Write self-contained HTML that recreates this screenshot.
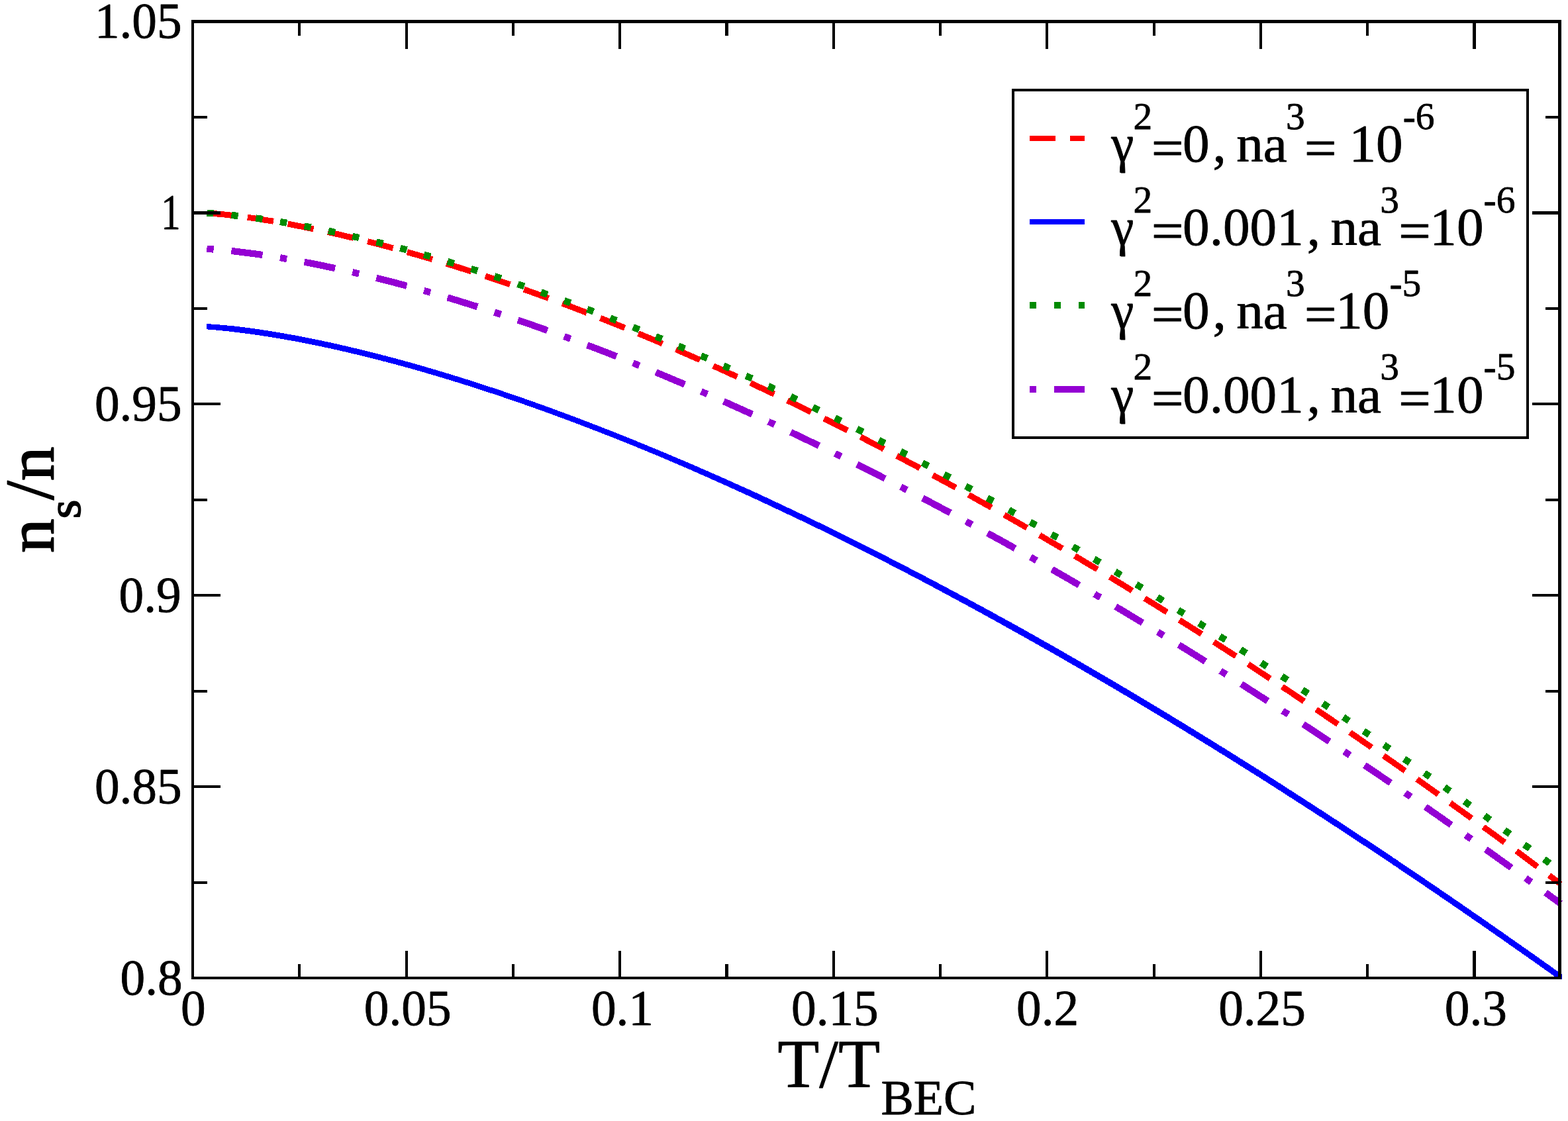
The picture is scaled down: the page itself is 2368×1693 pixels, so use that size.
<!DOCTYPE html>
<html lang="en"><head><meta charset="utf-8"><title>Superfluid fraction vs temperature</title>
<style>
html,body{margin:0;padding:0;background:#fff}
body{width:2368px;height:1693px;overflow:hidden}
svg{display:block}
text{font-family:"Liberation Serif", "DejaVu Serif", serif;white-space:pre}
</style></head>
<body>
<svg width="2368" height="1693" viewBox="0 0 2368 1693">
<rect width="2368" height="1693" fill="#fff"/>
<defs><clipPath id="clip"><rect x="289" y="30" width="2079" height="1449"/></clipPath><clipPath id="clipb"><rect x="312" y="30" width="2047" height="1449"/></clipPath></defs>
<g clip-path="url(#clip)" fill="none" shape-rendering="crispEdges">
<path d="M312.4 321.7 L320.3 322.3 L328.2 323.0 L336.1 323.7 L344.0 324.6 L351.9 325.5 L359.8 326.4 L367.7 327.4 L375.5 328.5 L383.4 329.6 L391.3 330.8 L399.2 332.1 L407.1 333.3 L415.0 334.6 L422.9 336.0 L430.8 337.4 L438.7 338.9 L446.6 340.4 L454.5 341.9 L462.4 343.5 L470.3 345.1 L478.2 346.7 L486.1 348.4 L493.9 350.1 L501.8 351.9 L509.7 353.7 L517.6 355.5 L525.5 357.4 L533.4 359.3 L541.3 361.2 L549.2 363.2 L557.1 365.2 L565.0 367.2 L572.9 369.2 L580.8 371.3 L588.7 373.4 L596.6 375.6 L604.5 377.7 L612.4 379.9 L620.2 382.2 L628.1 384.4 L636.0 386.7 L643.9 389.0 L651.8 391.4 L659.7 393.8 L667.6 396.1 L675.5 398.6 L683.4 401.0 L691.3 403.5 L699.2 406.0 L707.1 408.5 L715.0 411.1 L722.9 413.7 L730.8 416.3 L738.6 418.9 L746.5 421.5 L754.4 424.2 L762.3 426.9 L770.2 429.6 L778.1 432.4 L786.0 435.2 L793.9 438.0 L801.8 440.8 L809.7 443.6 L817.6 446.5 L825.5 449.4 L833.4 452.3 L841.3 455.2 L849.2 458.2 L857.0 461.2 L864.9 464.2 L872.8 467.2 L880.7 470.2 L888.6 473.3 L896.5 476.4 L904.4 479.5 L912.3 482.6 L920.2 485.8 L928.1 488.9 L936.0 492.1 L943.9 495.3 L951.8 498.6 L959.7 501.8 L967.6 505.1 L975.4 508.4 L983.3 511.7 L991.2 515.0 L999.1 518.4 L1007.0 521.8 L1014.9 525.2 L1022.8 528.6 L1030.7 532.0 L1038.6 535.5 L1046.5 538.9 L1054.4 542.4 L1062.3 545.9 L1070.2 549.4 L1078.1 553.0 L1086.0 556.6 L1093.9 560.1 L1101.7 563.7 L1109.6 567.4 L1117.5 571.0 L1125.4 574.7 L1133.3 578.3 L1141.2 582.0 L1149.1 585.8 L1157.0 589.5 L1164.9 593.2 L1172.8 597.0 L1180.7 600.8 L1188.6 604.6 L1196.5 608.4 L1204.4 612.3 L1212.3 616.1 L1220.1 620.0 L1228.0 623.9 L1235.9 627.8 L1243.8 631.7 L1251.7 635.6 L1259.6 639.6 L1267.5 643.6 L1275.4 647.6 L1283.3 651.6 L1291.2 655.6 L1299.1 659.7 L1307.0 663.7 L1314.9 667.8 L1322.8 671.9 L1330.7 676.0 L1338.5 680.1 L1346.4 684.3 L1354.3 688.4 L1362.2 692.6 L1370.1 696.8 L1378.0 701.0 L1385.9 705.2 L1393.8 709.5 L1401.7 713.7 L1409.6 718.0 L1417.5 722.3 L1425.4 726.6 L1433.3 730.9 L1441.2 735.3 L1449.1 739.6 L1456.9 744.0 L1464.8 748.4 L1472.7 752.8 L1480.6 757.2 L1488.5 761.6 L1496.4 766.0 L1504.3 770.5 L1512.2 775.0 L1520.1 779.5 L1528.0 784.0 L1535.9 788.5 L1543.8 793.0 L1551.7 797.6 L1559.6 802.2 L1567.5 806.7 L1575.3 811.3 L1583.2 816.0 L1591.1 820.6 L1599.0 825.2 L1606.9 829.9 L1614.8 834.6 L1622.7 839.2 L1630.6 843.9 L1638.5 848.7 L1646.4 853.4 L1654.3 858.1 L1662.2 862.9 L1670.1 867.7 L1678.0 872.5 L1685.9 877.3 L1693.8 882.1 L1701.6 886.9 L1709.5 891.8 L1717.4 896.6 L1725.3 901.5 L1733.2 906.4 L1741.1 911.3 L1749.0 916.2 L1756.9 921.1 L1764.8 926.1 L1772.7 931.0 L1780.6 936.0 L1788.5 941.0 L1796.4 946.0 L1804.3 951.0 L1812.2 956.0 L1820.0 961.1 L1827.9 966.1 L1835.8 971.2 L1843.7 976.3 L1851.6 981.4 L1859.5 986.5 L1867.4 991.6 L1875.3 996.8 L1883.2 1001.9 L1891.1 1007.1 L1899.0 1012.3 L1906.9 1017.5 L1914.8 1022.7 L1922.7 1027.9 L1930.6 1033.1 L1938.4 1038.4 L1946.3 1043.6 L1954.2 1048.9 L1962.1 1054.2 L1970.0 1059.5 L1977.9 1064.8 L1985.8 1070.1 L1993.7 1075.5 L2001.6 1080.8 L2009.5 1086.2 L2017.4 1091.6 L2025.3 1097.0 L2033.2 1102.4 L2041.1 1107.8 L2049.0 1113.2 L2056.8 1118.7 L2064.7 1124.1 L2072.6 1129.6 L2080.5 1135.1 L2088.4 1140.6 L2096.3 1146.1 L2104.2 1151.6 L2112.1 1157.1 L2120.0 1162.7 L2127.9 1168.3 L2135.8 1173.8 L2143.7 1179.4 L2151.6 1185.0 L2159.5 1190.6 L2167.4 1196.3 L2175.3 1201.9 L2183.1 1207.5 L2191.0 1213.2 L2198.9 1218.9 L2206.8 1224.6 L2214.7 1230.3 L2222.6 1236.0 L2230.5 1241.7 L2238.4 1247.4 L2246.3 1253.2 L2254.2 1258.9 L2262.1 1264.7 L2270.0 1270.5 L2277.9 1276.3 L2285.8 1282.1 L2293.7 1287.9 L2301.5 1293.8 L2309.4 1299.6 L2317.3 1305.5 L2325.2 1311.4 L2333.1 1317.2 L2341.0 1323.1 L2348.9 1329.0 L2356.8 1335.0" stroke="#ff0000" stroke-width="9.0" stroke-dasharray="39.68 22.04"/>
<path d="M311.5 489.1 L316.6 489.4 L321.8 489.7 L326.9 490.1 L332.0 490.5 L337.2 490.9 L342.3 491.4 L347.4 491.9 L352.6 492.4 L357.7 493.0 L362.9 493.6 L368.0 494.2 L373.1 494.9 L378.3 495.6 L383.4 496.3 L388.5 497.0 L393.7 497.8 L398.8 498.6 L403.9 499.4 L409.1 500.2 L414.2 501.0 L419.3 501.9 L424.5 502.8 L429.6 503.6 L434.7 504.6 L439.9 505.5 L445.0 506.4 L450.2 507.4 L455.3 508.4 L460.4 509.4 L465.6 510.4 L470.7 511.4 L475.8 512.5 L481.0 513.5 L486.1 514.6 L491.2 515.7 L496.4 516.8 L501.5 517.9 L506.6 519.1 L511.8 520.2 L516.9 521.4 L522.0 522.6 L527.2 523.7 L532.3 525.0 L537.5 526.2 L542.6 527.4 L547.7 528.7 L552.9 529.9 L558.0 531.2 L563.1 532.5 L568.3 533.8 L573.4 535.1 L578.5 536.5 L583.7 537.8 L588.8 539.2 L593.9 540.5 L599.1 541.9 L604.2 543.3 L609.3 544.7 L614.5 546.1 L619.6 547.5 L624.8 549.0 L629.9 550.4 L635.0 551.9 L640.2 553.4 L645.3 554.9 L650.4 556.4 L655.6 557.9 L660.7 559.4 L665.8 560.9 L671.0 562.5 L676.1 564.0 L681.2 565.6 L686.4 567.2 L691.5 568.8 L696.7 570.4 L701.8 572.0 L706.9 573.6 L712.1 575.3 L717.2 576.9 L722.3 578.6 L727.5 580.2 L732.6 581.9 L737.7 583.6 L742.9 585.3 L748.0 587.0 L753.1 588.7 L758.3 590.4 L763.4 592.2 L768.5 593.9 L773.7 595.7 L778.8 597.4 L784.0 599.2 L789.1 601.0 L794.2 602.8 L799.4 604.6 L804.5 606.4 L809.6 608.2 L814.8 610.1 L819.9 611.9 L825.0 613.8 L830.2 615.6 L835.3 617.5 L840.4 619.4 L845.6 621.3 L850.7 623.2 L855.8 625.1 L861.0 627.0 L866.1 628.9 L871.3 630.9 L876.4 632.8 L881.5 634.8 L886.7 636.7 L891.8 638.7 L896.9 640.7 L902.1 642.7 L907.2 644.7 L912.3 646.7 L917.5 648.7 L922.6 650.7 L927.7 652.7 L932.9 654.8 L938.0 656.8 L943.1 658.9 L948.3 661.0 L953.4 663.0 L958.6 665.1 L963.7 667.2 L968.8 669.3 L974.0 671.4 L979.1 673.5 L984.2 675.7 L989.4 677.8 L994.5 679.9 L999.6 682.1 L1004.8 684.2 L1009.9 686.4 L1015.0 688.5 L1020.2 690.7 L1025.3 692.9 L1030.4 695.0 L1035.6 697.2 L1040.7 699.4 L1045.9 701.6 L1051.0 703.8 L1056.1 706.1 L1061.3 708.3 L1066.4 710.5 L1071.5 712.8 L1076.7 715.0 L1081.8 717.3 L1086.9 719.5 L1092.1 721.8 L1097.2 724.1 L1102.3 726.4 L1107.5 728.7 L1112.6 731.0 L1117.7 733.3 L1122.9 735.6 L1128.0 737.9 L1133.2 740.2 L1138.3 742.6 L1143.4 744.9 L1148.6 747.3 L1153.7 749.7 L1158.8 752.1 L1164.0 754.5 L1169.1 756.9 L1174.2 759.3 L1179.4 761.7 L1184.5 764.1 L1189.6 766.6 L1194.8 769.0 L1199.9 771.4 L1205.0 773.9 L1210.2 776.3 L1215.3 778.8 L1220.5 781.3 L1225.6 783.8 L1230.7 786.2 L1235.9 788.7 L1241.0 791.2 L1246.1 793.7 L1251.3 796.2 L1256.4 798.8 L1261.5 801.3 L1266.7 803.8 L1271.8 806.4 L1276.9 808.9 L1282.1 811.5 L1287.2 814.0 L1292.3 816.6 L1297.5 819.2 L1302.6 821.7 L1307.8 824.3 L1312.9 826.9 L1318.0 829.5 L1323.2 832.1 L1328.3 834.7 L1333.4 837.4 L1338.6 840.0 L1343.7 842.6 L1348.8 845.3 L1354.0 847.9 L1359.1 850.6 L1364.2 853.2 L1369.4 855.9 L1374.5 858.5 L1379.7 861.2 L1384.8 863.9 L1389.9 866.5 L1395.1 869.2 L1400.2 871.9 L1405.3 874.6 L1410.5 877.3 L1415.6 880.0 L1420.7 882.7 L1425.9 885.4 L1431.0 888.2 L1436.1 890.9 L1441.3 893.6 L1446.4 896.4 L1451.5 899.1 L1456.7 901.9 L1461.8 904.6 L1467.0 907.4 L1472.1 910.2 L1477.2 913.0 L1482.4 915.7 L1487.5 918.5 L1492.6 921.3 L1497.8 924.1 L1502.9 926.9 L1508.0 929.8 L1513.2 932.6 L1518.3 935.4 L1523.4 938.2 L1528.6 941.1 L1533.7 943.9 L1538.8 946.8 L1544.0 949.6 L1549.1 952.5 L1554.3 955.4 L1559.4 958.3 L1564.5 961.2 L1569.7 964.1 L1574.8 967.0 L1579.9 969.9 L1585.1 972.8 L1590.2 975.7 L1595.3 978.7 L1600.5 981.6 L1605.6 984.5 L1610.7 987.5 L1615.9 990.4 L1621.0 993.4 L1626.1 996.4 L1631.3 999.3 L1636.4 1002.3 L1641.6 1005.3 L1646.7 1008.3 L1651.8 1011.3 L1657.0 1014.3 L1662.1 1017.3 L1667.2 1020.3 L1672.4 1023.3 L1677.5 1026.3 L1682.6 1029.3 L1687.8 1032.3 L1692.9 1035.4 L1698.0 1038.4 L1703.2 1041.5 L1708.3 1044.5 L1713.4 1047.6 L1718.6 1050.6 L1723.7 1053.7 L1728.9 1056.8 L1734.0 1059.9 L1739.1 1062.9 L1744.3 1066.0 L1749.4 1069.1 L1754.5 1072.2 L1759.7 1075.3 L1764.8 1078.4 L1769.9 1081.6 L1775.1 1084.7 L1780.2 1087.8 L1785.3 1090.9 L1790.5 1094.1 L1795.6 1097.2 L1800.7 1100.4 L1805.9 1103.5 L1811.0 1106.7 L1816.2 1109.8 L1821.3 1113.0 L1826.4 1116.2 L1831.6 1119.4 L1836.7 1122.5 L1841.8 1125.7 L1847.0 1128.9 L1852.1 1132.1 L1857.2 1135.3 L1862.4 1138.5 L1867.5 1141.7 L1872.6 1145.0 L1877.8 1148.2 L1882.9 1151.4 L1888.0 1154.7 L1893.2 1157.9 L1898.3 1161.1 L1903.5 1164.4 L1908.6 1167.6 L1913.7 1170.9 L1918.9 1174.2 L1924.0 1177.4 L1929.1 1180.7 L1934.3 1184.0 L1939.4 1187.3 L1944.5 1190.6 L1949.7 1193.9 L1954.8 1197.2 L1959.9 1200.5 L1965.1 1203.8 L1970.2 1207.1 L1975.3 1210.4 L1980.5 1213.7 L1985.6 1217.1 L1990.8 1220.4 L1995.9 1223.7 L2001.0 1227.1 L2006.2 1230.4 L2011.3 1233.8 L2016.4 1237.1 L2021.6 1240.5 L2026.7 1243.9 L2031.8 1247.2 L2037.0 1250.6 L2042.1 1254.0 L2047.2 1257.4 L2052.4 1260.8 L2057.5 1264.2 L2062.7 1267.6 L2067.8 1271.0 L2072.9 1274.4 L2078.1 1277.8 L2083.2 1281.2 L2088.3 1284.7 L2093.5 1288.1 L2098.6 1291.5 L2103.7 1295.0 L2108.9 1298.4 L2114.0 1301.9 L2119.1 1305.3 L2124.3 1308.8 L2129.4 1312.2 L2134.5 1315.7 L2139.7 1319.2 L2144.8 1322.6 L2150.0 1326.1 L2155.1 1329.6 L2160.2 1333.1 L2165.4 1336.6 L2170.5 1340.1 L2175.6 1343.6 L2180.8 1347.1 L2185.9 1350.6 L2191.0 1354.1 L2196.2 1357.7 L2201.3 1361.2 L2206.4 1364.7 L2211.6 1368.3 L2216.7 1371.8 L2221.8 1375.4 L2227.0 1378.9 L2232.1 1382.5 L2237.3 1386.0 L2242.4 1389.6 L2247.5 1393.2 L2252.7 1396.7 L2257.8 1400.3 L2262.9 1403.9 L2268.1 1407.5 L2273.2 1411.1 L2278.3 1414.7 L2283.5 1418.3 L2288.6 1421.9 L2293.7 1425.5 L2298.9 1429.1 L2304.0 1432.7 L2309.1 1436.3 L2314.3 1439.9 L2319.4 1443.6 L2324.6 1447.2 L2329.7 1450.9 L2334.8 1454.5 L2340.0 1458.1 L2345.1 1461.8 L2350.2 1465.5 L2355.4 1469.1 L2360.5 1472.8 L2360.5 1483.8 L2355.4 1480.1 L2350.2 1476.5 L2345.1 1472.8 L2340.0 1469.1 L2334.8 1465.5 L2329.7 1461.9 L2324.6 1458.2 L2319.4 1454.6 L2314.3 1450.9 L2309.1 1447.3 L2304.0 1443.7 L2298.9 1440.1 L2293.7 1436.5 L2288.6 1432.9 L2283.5 1429.3 L2278.3 1425.7 L2273.2 1422.1 L2268.1 1418.5 L2262.9 1414.9 L2257.8 1411.3 L2252.7 1407.7 L2247.5 1404.2 L2242.4 1400.6 L2237.3 1397.0 L2232.1 1393.5 L2227.0 1389.9 L2221.8 1386.4 L2216.7 1382.8 L2211.6 1379.3 L2206.4 1375.7 L2201.3 1372.2 L2196.2 1368.7 L2191.0 1365.1 L2185.9 1361.6 L2180.8 1358.1 L2175.6 1354.6 L2170.5 1351.1 L2165.4 1347.6 L2160.2 1344.1 L2155.1 1340.6 L2150.0 1337.1 L2144.8 1333.6 L2139.7 1330.2 L2134.5 1326.7 L2129.4 1323.2 L2124.3 1319.8 L2119.1 1316.3 L2114.0 1312.9 L2108.9 1309.4 L2103.7 1306.0 L2098.6 1302.5 L2093.5 1299.1 L2088.3 1295.7 L2083.2 1292.2 L2078.1 1288.8 L2072.9 1285.4 L2067.8 1282.0 L2062.7 1278.6 L2057.5 1275.2 L2052.4 1271.8 L2047.2 1268.4 L2042.1 1265.0 L2037.0 1261.6 L2031.8 1258.2 L2026.7 1254.9 L2021.6 1251.5 L2016.4 1248.1 L2011.3 1244.8 L2006.2 1241.4 L2001.0 1238.1 L1995.9 1234.7 L1990.8 1231.4 L1985.6 1228.1 L1980.5 1224.7 L1975.3 1221.4 L1970.2 1218.1 L1965.1 1214.8 L1959.9 1211.5 L1954.8 1208.2 L1949.7 1204.9 L1944.5 1201.6 L1939.4 1198.3 L1934.3 1195.0 L1929.1 1191.7 L1924.0 1188.4 L1918.9 1185.2 L1913.7 1181.9 L1908.6 1178.6 L1903.5 1175.4 L1898.3 1172.1 L1893.2 1168.9 L1888.0 1165.7 L1882.9 1162.4 L1877.8 1159.2 L1872.6 1156.0 L1867.5 1152.7 L1862.4 1149.5 L1857.2 1146.3 L1852.1 1143.1 L1847.0 1139.9 L1841.8 1136.7 L1836.7 1133.5 L1831.6 1130.4 L1826.4 1127.2 L1821.3 1124.0 L1816.2 1120.8 L1811.0 1117.7 L1805.9 1114.5 L1800.7 1111.4 L1795.6 1108.2 L1790.5 1105.1 L1785.3 1101.9 L1780.2 1098.8 L1775.1 1095.7 L1769.9 1092.6 L1764.8 1089.4 L1759.7 1086.3 L1754.5 1083.2 L1749.4 1080.1 L1744.3 1077.0 L1739.1 1073.9 L1734.0 1070.9 L1728.9 1067.8 L1723.7 1064.7 L1718.6 1061.6 L1713.4 1058.6 L1708.3 1055.5 L1703.2 1052.5 L1698.0 1049.4 L1692.9 1046.4 L1687.8 1043.3 L1682.6 1040.3 L1677.5 1037.3 L1672.4 1034.3 L1667.2 1031.3 L1662.1 1028.3 L1657.0 1025.3 L1651.8 1022.3 L1646.7 1019.3 L1641.6 1016.3 L1636.4 1013.3 L1631.3 1010.3 L1626.1 1007.4 L1621.0 1004.4 L1615.9 1001.4 L1610.7 998.5 L1605.6 995.5 L1600.5 992.6 L1595.3 989.7 L1590.2 986.7 L1585.1 983.8 L1579.9 980.9 L1574.8 978.0 L1569.7 975.1 L1564.5 972.2 L1559.4 969.3 L1554.3 966.4 L1549.1 963.5 L1544.0 960.6 L1538.8 957.7 L1533.7 954.9 L1528.6 952.0 L1523.4 949.1 L1518.3 946.3 L1513.2 943.4 L1508.0 940.6 L1502.9 937.7 L1497.8 934.9 L1492.6 932.0 L1487.5 929.2 L1482.4 926.4 L1477.2 923.6 L1472.1 920.8 L1467.0 918.0 L1461.8 915.2 L1456.7 912.4 L1451.5 909.6 L1446.4 906.8 L1441.3 904.0 L1436.1 901.3 L1431.0 898.5 L1425.9 895.8 L1420.7 893.0 L1415.6 890.3 L1410.5 887.5 L1405.3 884.8 L1400.2 882.1 L1395.1 879.4 L1389.9 876.6 L1384.8 873.9 L1379.7 871.2 L1374.5 868.6 L1369.4 865.9 L1364.2 863.2 L1359.1 860.6 L1354.0 857.9 L1348.8 855.3 L1343.7 852.6 L1338.6 850.0 L1333.4 847.4 L1328.3 844.7 L1323.2 842.1 L1318.0 839.5 L1312.9 836.9 L1307.8 834.3 L1302.6 831.7 L1297.5 829.2 L1292.3 826.6 L1287.2 824.0 L1282.1 821.5 L1276.9 818.9 L1271.8 816.4 L1266.7 813.8 L1261.5 811.3 L1256.4 808.8 L1251.3 806.2 L1246.1 803.7 L1241.0 801.2 L1235.9 798.7 L1230.7 796.2 L1225.6 793.8 L1220.5 791.3 L1215.3 788.8 L1210.2 786.3 L1205.0 783.9 L1199.9 781.4 L1194.8 779.0 L1189.6 776.6 L1184.5 774.1 L1179.4 771.7 L1174.2 769.3 L1169.1 766.9 L1164.0 764.5 L1158.8 762.1 L1153.7 759.7 L1148.6 757.3 L1143.4 754.9 L1138.3 752.6 L1133.2 750.2 L1128.0 747.8 L1122.9 745.5 L1117.7 743.1 L1112.6 740.8 L1107.5 738.4 L1102.3 736.1 L1097.2 733.8 L1092.1 731.5 L1086.9 729.2 L1081.8 726.9 L1076.7 724.6 L1071.5 722.3 L1066.4 720.0 L1061.3 717.7 L1056.1 715.5 L1051.0 713.2 L1045.9 711.0 L1040.7 708.7 L1035.6 706.5 L1030.4 704.3 L1025.3 702.0 L1020.2 699.8 L1015.0 697.6 L1009.9 695.4 L1004.8 693.3 L999.6 691.1 L994.5 688.9 L989.4 686.8 L984.2 684.7 L979.1 682.5 L974.0 680.4 L968.8 678.3 L963.7 676.2 L958.6 674.1 L953.4 672.0 L948.3 670.0 L943.1 667.9 L938.0 665.8 L932.9 663.8 L927.7 661.7 L922.6 659.7 L917.5 657.7 L912.3 655.7 L907.2 653.7 L902.1 651.7 L896.9 649.7 L891.8 647.7 L886.7 645.7 L881.5 643.8 L876.4 641.8 L871.3 639.9 L866.1 637.9 L861.0 636.0 L855.8 634.1 L850.7 632.2 L845.6 630.3 L840.4 628.4 L835.3 626.5 L830.2 624.6 L825.0 622.8 L819.9 620.9 L814.8 619.1 L809.6 617.2 L804.5 615.4 L799.4 613.6 L794.2 611.8 L789.1 610.0 L784.0 608.2 L778.8 606.4 L773.7 604.7 L768.5 602.9 L763.4 601.2 L758.3 599.4 L753.1 597.7 L748.0 596.0 L742.9 594.3 L737.7 592.6 L732.6 590.9 L727.5 589.2 L722.3 587.6 L717.2 585.9 L712.1 584.3 L706.9 582.6 L701.8 581.0 L696.7 579.4 L691.5 577.8 L686.4 576.2 L681.2 574.6 L676.1 573.0 L671.0 571.5 L665.8 569.9 L660.7 568.4 L655.6 566.9 L650.4 565.4 L645.3 563.9 L640.2 562.4 L635.0 560.9 L629.9 559.4 L624.8 558.0 L619.6 556.5 L614.5 555.1 L609.3 553.7 L604.2 552.3 L599.1 550.9 L593.9 549.5 L588.8 548.2 L583.7 546.8 L578.5 545.5 L573.4 544.1 L568.3 542.8 L563.1 541.5 L558.0 540.2 L552.9 538.9 L547.7 537.7 L542.6 536.4 L537.5 535.2 L532.3 534.0 L527.2 532.7 L522.0 531.6 L516.9 530.4 L511.8 529.2 L506.6 528.1 L501.5 526.9 L496.4 525.8 L491.2 524.7 L486.1 523.6 L481.0 522.5 L475.8 521.5 L470.7 520.4 L465.6 519.4 L460.4 518.4 L455.3 517.4 L450.2 516.4 L445.0 515.4 L439.9 514.5 L434.7 513.6 L429.6 512.6 L424.5 511.8 L419.3 510.9 L414.2 510.0 L409.1 509.2 L403.9 508.4 L398.8 507.6 L393.7 506.8 L388.5 506.0 L383.4 505.3 L378.3 504.6 L373.1 503.9 L368.0 503.2 L362.9 502.6 L357.7 502.0 L352.6 501.3 L347.4 500.7 L342.3 500.1 L337.2 499.6 L332.0 499.1 L326.9 498.6 L321.8 498.1 L316.6 497.7 L311.5 497.3Z" fill="#0000ff" clip-path="url(#clipb)"/>
<path d="M312.4 321.8 L320.3 322.3 L328.2 322.9 L336.1 323.6 L344.0 324.4 L351.9 325.2 L359.8 326.1 L367.7 327.0 L375.5 328.0 L383.4 329.0 L391.3 330.1 L399.2 331.3 L407.1 332.5 L415.0 333.7 L422.9 335.0 L430.8 336.3 L438.7 337.7 L446.6 339.1 L454.5 340.5 L462.4 342.0 L470.3 343.5 L478.2 345.1 L486.1 346.7 L493.9 348.3 L501.8 350.0 L509.7 351.7 L517.6 353.5 L525.5 355.2 L533.4 357.1 L541.3 358.9 L549.2 360.8 L557.1 362.7 L565.0 364.6 L572.9 366.6 L580.8 368.6 L588.7 370.6 L596.6 372.7 L604.5 374.8 L612.4 376.9 L620.2 379.1 L628.1 381.3 L636.0 383.5 L643.9 385.7 L651.8 388.0 L659.7 390.3 L667.6 392.6 L675.5 394.9 L683.4 397.3 L691.3 399.7 L699.2 402.1 L707.1 404.6 L715.0 407.1 L722.9 409.6 L730.8 412.1 L738.6 414.6 L746.5 417.2 L754.4 419.8 L762.3 422.5 L770.2 425.1 L778.1 427.8 L786.0 430.5 L793.9 433.2 L801.8 436.0 L809.7 438.7 L817.6 441.5 L825.5 444.3 L833.4 447.2 L841.3 450.0 L849.2 452.9 L857.0 455.8 L864.9 458.8 L872.8 461.7 L880.7 464.7 L888.6 467.7 L896.5 470.7 L904.4 473.7 L912.3 476.8 L920.2 479.9 L928.1 483.0 L936.0 486.1 L943.9 489.2 L951.8 492.4 L959.7 495.6 L967.6 498.8 L975.4 502.0 L983.3 505.2 L991.2 508.5 L999.1 511.8 L1007.0 515.1 L1014.9 518.4 L1022.8 521.8 L1030.7 525.1 L1038.6 528.5 L1046.5 531.9 L1054.4 535.3 L1062.3 538.8 L1070.2 542.2 L1078.1 545.7 L1086.0 549.2 L1093.9 552.7 L1101.7 556.3 L1109.6 559.8 L1117.5 563.4 L1125.4 567.0 L1133.3 570.6 L1141.2 574.2 L1149.1 577.8 L1157.0 581.5 L1164.9 585.2 L1172.8 588.9 L1180.7 592.6 L1188.6 596.3 L1196.5 600.1 L1204.4 603.8 L1212.3 607.6 L1220.1 611.4 L1228.0 615.3 L1235.9 619.1 L1243.8 622.9 L1251.7 626.8 L1259.6 630.7 L1267.5 634.6 L1275.4 638.5 L1283.3 642.5 L1291.2 646.4 L1299.1 650.4 L1307.0 654.4 L1314.9 658.4 L1322.8 662.4 L1330.7 666.5 L1338.5 670.5 L1346.4 674.6 L1354.3 678.7 L1362.2 682.8 L1370.1 686.9 L1378.0 691.0 L1385.9 695.2 L1393.8 699.4 L1401.7 703.5 L1409.6 707.7 L1417.5 712.0 L1425.4 716.2 L1433.3 720.4 L1441.2 724.7 L1449.1 729.0 L1456.9 733.3 L1464.8 737.6 L1472.7 741.9 L1480.6 746.2 L1488.5 750.6 L1496.4 755.0 L1504.3 759.4 L1512.2 763.8 L1520.1 768.2 L1528.0 772.6 L1535.9 777.1 L1543.8 781.5 L1551.7 786.0 L1559.6 790.5 L1567.5 795.0 L1575.3 799.5 L1583.2 804.0 L1591.1 808.6 L1599.0 813.2 L1606.9 817.7 L1614.8 822.3 L1622.7 827.0 L1630.6 831.6 L1638.5 836.2 L1646.4 840.9 L1654.3 845.5 L1662.2 850.2 L1670.1 854.9 L1678.0 859.6 L1685.9 864.4 L1693.8 869.1 L1701.6 873.9 L1709.5 878.6 L1717.4 883.4 L1725.3 888.2 L1733.2 893.0 L1741.1 897.9 L1749.0 902.7 L1756.9 907.5 L1764.8 912.4 L1772.7 917.3 L1780.6 922.2 L1788.5 927.1 L1796.4 932.0 L1804.3 937.0 L1812.2 941.9 L1820.0 946.9 L1827.9 951.9 L1835.8 956.9 L1843.7 961.9 L1851.6 966.9 L1859.5 971.9 L1867.4 977.0 L1875.3 982.0 L1883.2 987.1 L1891.1 992.2 L1899.0 997.3 L1906.9 1002.4 L1914.8 1007.6 L1922.7 1012.7 L1930.6 1017.9 L1938.4 1023.0 L1946.3 1028.2 L1954.2 1033.4 L1962.1 1038.6 L1970.0 1043.9 L1977.9 1049.1 L1985.8 1054.3 L1993.7 1059.6 L2001.6 1064.9 L2009.5 1070.2 L2017.4 1075.5 L2025.3 1080.8 L2033.2 1086.1 L2041.1 1091.5 L2049.0 1096.8 L2056.8 1102.2 L2064.7 1107.6 L2072.6 1113.0 L2080.5 1118.4 L2088.4 1123.8 L2096.3 1129.3 L2104.2 1134.7 L2112.1 1140.2 L2120.0 1145.7 L2127.9 1151.2 L2135.8 1156.7 L2143.7 1162.2 L2151.6 1167.7 L2159.5 1173.3 L2167.4 1178.8 L2175.3 1184.4 L2183.1 1190.0 L2191.0 1195.6 L2198.9 1201.2 L2206.8 1206.8 L2214.7 1212.4 L2222.6 1218.1 L2230.5 1223.7 L2238.4 1229.4 L2246.3 1235.1 L2254.2 1240.8 L2262.1 1246.5 L2270.0 1252.2 L2277.9 1257.9 L2285.8 1263.7 L2293.7 1269.5 L2301.5 1275.2 L2309.4 1281.0 L2317.3 1286.8 L2325.2 1292.6 L2333.1 1298.5 L2341.0 1304.3 L2348.9 1310.1 L2356.8 1316.0" stroke="#008b00" stroke-width="10.2" stroke-dasharray="10.29 26.86"/>
<path d="M312.4 375.9 L320.3 376.4 L328.2 377.1 L336.1 377.7 L344.0 378.5 L351.9 379.3 L359.8 380.2 L367.7 381.2 L375.5 382.2 L383.4 383.2 L391.3 384.3 L399.2 385.5 L407.1 386.7 L415.0 387.9 L422.9 389.2 L430.8 390.6 L438.7 391.9 L446.6 393.3 L454.5 394.8 L462.4 396.3 L470.3 397.8 L478.2 399.4 L486.1 401.0 L493.9 402.6 L501.8 404.3 L509.7 406.0 L517.6 407.8 L525.5 409.6 L533.4 411.4 L541.3 413.2 L549.2 415.1 L557.1 417.0 L565.0 419.0 L572.9 420.9 L580.8 422.9 L588.7 425.0 L596.6 427.0 L604.5 429.1 L612.4 431.3 L620.2 433.4 L628.1 435.6 L636.0 437.8 L643.9 440.0 L651.8 442.3 L659.7 444.6 L667.6 446.9 L675.5 449.3 L683.4 451.6 L691.3 454.0 L699.2 456.5 L707.1 458.9 L715.0 461.4 L722.9 463.9 L730.8 466.4 L738.6 469.0 L746.5 471.5 L754.4 474.1 L762.3 476.8 L770.2 479.4 L778.1 482.1 L786.0 484.8 L793.9 487.5 L801.8 490.2 L809.7 493.0 L817.6 495.8 L825.5 498.6 L833.4 501.4 L841.3 504.3 L849.2 507.1 L857.0 510.0 L864.9 513.0 L872.8 515.9 L880.7 518.9 L888.6 521.9 L896.5 524.9 L904.4 527.9 L912.3 530.9 L920.2 534.0 L928.1 537.1 L936.0 540.2 L943.9 543.3 L951.8 546.5 L959.7 549.7 L967.6 552.9 L975.4 556.1 L983.3 559.3 L991.2 562.6 L999.1 565.8 L1007.0 569.1 L1014.9 572.4 L1022.8 575.8 L1030.7 579.1 L1038.6 582.5 L1046.5 585.9 L1054.4 589.3 L1062.3 592.7 L1070.2 596.2 L1078.1 599.6 L1086.0 603.1 L1093.9 606.6 L1101.7 610.1 L1109.6 613.7 L1117.5 617.2 L1125.4 620.8 L1133.3 624.4 L1141.2 628.0 L1149.1 631.6 L1157.0 635.3 L1164.9 638.9 L1172.8 642.6 L1180.7 646.3 L1188.6 650.0 L1196.5 653.8 L1204.4 657.5 L1212.3 661.3 L1220.1 665.1 L1228.0 668.9 L1235.9 672.7 L1243.8 676.5 L1251.7 680.4 L1259.6 684.3 L1267.5 688.1 L1275.4 692.0 L1283.3 696.0 L1291.2 699.9 L1299.1 703.9 L1307.0 707.8 L1314.9 711.8 L1322.8 715.8 L1330.7 719.8 L1338.5 723.9 L1346.4 727.9 L1354.3 732.0 L1362.2 736.1 L1370.1 740.2 L1378.0 744.3 L1385.9 748.4 L1393.8 752.6 L1401.7 756.7 L1409.6 760.9 L1417.5 765.1 L1425.4 769.3 L1433.3 773.5 L1441.2 777.8 L1449.1 782.0 L1456.9 786.3 L1464.8 790.6 L1472.7 794.9 L1480.6 799.2 L1488.5 803.5 L1496.4 807.9 L1504.3 812.3 L1512.2 816.6 L1520.1 821.0 L1528.0 825.4 L1535.9 829.9 L1543.8 834.3 L1551.7 838.8 L1559.6 843.2 L1567.5 847.7 L1575.3 852.2 L1583.2 856.7 L1591.1 861.2 L1599.0 865.8 L1606.9 870.3 L1614.8 874.9 L1622.7 879.5 L1630.6 884.1 L1638.5 888.7 L1646.4 893.3 L1654.3 898.0 L1662.2 902.6 L1670.1 907.3 L1678.0 912.0 L1685.9 916.7 L1693.8 921.4 L1701.6 926.1 L1709.5 930.9 L1717.4 935.6 L1725.3 940.4 L1733.2 945.2 L1741.1 950.0 L1749.0 954.8 L1756.9 959.6 L1764.8 964.4 L1772.7 969.3 L1780.6 974.1 L1788.5 979.0 L1796.4 983.9 L1804.3 988.8 L1812.2 993.7 L1820.0 998.7 L1827.9 1003.6 L1835.8 1008.6 L1843.7 1013.6 L1851.6 1018.5 L1859.5 1023.5 L1867.4 1028.6 L1875.3 1033.6 L1883.2 1038.6 L1891.1 1043.7 L1899.0 1048.8 L1906.9 1053.8 L1914.8 1058.9 L1922.7 1064.0 L1930.6 1069.2 L1938.4 1074.3 L1946.3 1079.4 L1954.2 1084.6 L1962.1 1089.8 L1970.0 1095.0 L1977.9 1100.2 L1985.8 1105.4 L1993.7 1110.6 L2001.6 1115.8 L2009.5 1121.1 L2017.4 1126.4 L2025.3 1131.6 L2033.2 1136.9 L2041.1 1142.2 L2049.0 1147.5 L2056.8 1152.9 L2064.7 1158.2 L2072.6 1163.6 L2080.5 1168.9 L2088.4 1174.3 L2096.3 1179.7 L2104.2 1185.1 L2112.1 1190.5 L2120.0 1196.0 L2127.9 1201.4 L2135.8 1206.9 L2143.7 1212.3 L2151.6 1217.8 L2159.5 1223.3 L2167.4 1228.8 L2175.3 1234.3 L2183.1 1239.9 L2191.0 1245.4 L2198.9 1251.0 L2206.8 1256.5 L2214.7 1262.1 L2222.6 1267.7 L2230.5 1273.3 L2238.4 1279.0 L2246.3 1284.6 L2254.2 1290.2 L2262.1 1295.9 L2270.0 1301.6 L2277.9 1307.2 L2285.8 1312.9 L2293.7 1318.6 L2301.5 1324.4 L2309.4 1330.1 L2317.3 1335.8 L2325.2 1341.6 L2333.1 1347.4 L2341.0 1353.1 L2348.9 1358.9 L2356.8 1364.7" stroke="#9400d3" stroke-width="10.2" stroke-dasharray="10.29 26.86 47.44 26.86"/>
</g>
<g fill="#000" shape-rendering="crispEdges">
<rect x="289" y="30" width="4" height="1449"/>
<rect x="2353" y="30" width="5" height="1449"/>
<rect x="289" y="30" width="2069" height="5"/>
<rect x="289" y="1475" width="2069" height="4"/>
<rect x="450" y="30" width="4" height="24"/>
<rect x="450" y="1456" width="4" height="23"/>
<rect x="612" y="30" width="4" height="44"/>
<rect x="612" y="1436" width="4" height="43"/>
<rect x="773" y="30" width="4" height="24"/>
<rect x="773" y="1456" width="4" height="23"/>
<rect x="934" y="30" width="4" height="44"/>
<rect x="934" y="1436" width="4" height="43"/>
<rect x="1095" y="30" width="5" height="24"/>
<rect x="1095" y="1456" width="5" height="23"/>
<rect x="1257" y="30" width="4" height="44"/>
<rect x="1257" y="1436" width="4" height="43"/>
<rect x="1418" y="30" width="4" height="24"/>
<rect x="1418" y="1456" width="4" height="23"/>
<rect x="1579" y="30" width="4" height="44"/>
<rect x="1579" y="1436" width="4" height="43"/>
<rect x="1741" y="30" width="4" height="24"/>
<rect x="1741" y="1456" width="4" height="23"/>
<rect x="1902" y="30" width="4" height="44"/>
<rect x="1902" y="1436" width="4" height="43"/>
<rect x="2063" y="30" width="4" height="24"/>
<rect x="2063" y="1456" width="4" height="23"/>
<rect x="2224" y="30" width="5" height="44"/>
<rect x="2224" y="1436" width="5" height="43"/>
<rect x="289" y="1331" width="24" height="4"/>
<rect x="2334" y="1331" width="24" height="4"/>
<rect x="289" y="1186" width="44" height="4"/>
<rect x="2314" y="1186" width="44" height="4"/>
<rect x="289" y="1042" width="24" height="4"/>
<rect x="2334" y="1042" width="24" height="4"/>
<rect x="289" y="897" width="44" height="4"/>
<rect x="2314" y="897" width="44" height="4"/>
<rect x="289" y="753" width="24" height="4"/>
<rect x="2334" y="753" width="24" height="4"/>
<rect x="289" y="608" width="44" height="4"/>
<rect x="2314" y="608" width="44" height="4"/>
<rect x="289" y="464" width="24" height="4"/>
<rect x="2334" y="464" width="24" height="4"/>
<rect x="289" y="319" width="44" height="5"/>
<rect x="2314" y="319" width="44" height="5"/>
<rect x="289" y="175" width="24" height="4"/>
<rect x="2334" y="175" width="24" height="4"/>
</g>
<g shape-rendering="crispEdges">
<rect x="1530" y="136" width="777" height="525" fill="#fff" stroke="#000" stroke-width="4"/>
<rect x="1555" y="205" width="39" height="8" fill="#ff0000"/><rect x="1616" y="205" width="22" height="8" fill="#ff0000"/>
<rect x="1555" y="331" width="83" height="8" fill="#0000ff"/>
<rect x="1555" y="456" width="10" height="10" fill="#008b00"/>
<rect x="1592" y="456" width="10" height="10" fill="#008b00"/>
<rect x="1629" y="456" width="9" height="10" fill="#008b00"/>
<rect x="1555" y="583" width="10" height="10" fill="#9400d3"/><rect x="1592" y="583" width="46" height="10" fill="#9400d3"/>
</g>
<g font-family='"Liberation Serif", "DejaVu Serif", serif' fill="#000" stroke="#000" stroke-width="0.8" stroke-linejoin="round" style="white-space:pre" xml:space="preserve">
<text transform="translate(142.89 57.40) scale(1.0000 1.0000)" font-size="75.30">1.05</text>
<text transform="translate(142.89 635.20) scale(1.0000 1.0000)" font-size="75.30">0.95</text>
<text transform="translate(179.56 924.10) scale(1.0000 1.0000)" font-size="75.30">0.9</text>
<text transform="translate(142.89 1213.00) scale(1.0000 1.0000)" font-size="75.30">0.85</text>
<text transform="translate(181.52 1501.90) scale(1.0000 1.0000)" font-size="75.30">0.8</text>
<text transform="translate(243.34 346.30) scale(0.7800 1.0000)" font-size="75.30">1</text>
<text transform="translate(272.88 1548.30) scale(1.0000 1.0000)" font-size="75.30">0</text>
<text transform="translate(549.82 1548.30) scale(1.0000 1.0000)" font-size="75.30">0.05</text>
<text transform="translate(892.88 1548.30) scale(1.0000 1.0000)" font-size="75.30">0.1</text>
<text transform="translate(1194.98 1548.30) scale(1.0000 1.0000)" font-size="75.30">0.15</text>
<text transform="translate(1534.99 1548.30) scale(1.0000 1.0000)" font-size="75.30">0.2</text>
<text transform="translate(1840.13 1548.30) scale(1.0000 1.0000)" font-size="75.30">0.25</text>
<text transform="translate(2181.80 1548.30) scale(1.0000 1.0000)" font-size="75.30">0.3</text>
<text transform="translate(1174.24 1642.00) scale(1.0000 1.0120)" font-size="103.30">T/T</text>
<text transform="translate(1330.39 1682.70) scale(1.0140 1.0120)" font-size="73.04">BEC</text>
<text transform="translate(79.50 835.00) rotate(-90) scale(1 0.962)" font-size="103.30" stroke-width="1.8">n</text>
<text transform="translate(121.20 783.35) rotate(-90) scale(1 0.962)" font-size="73.04" stroke-width="1.8">s</text>
<text transform="translate(79.50 754.92) rotate(-90) scale(1 1.0)" font-size="103.30" stroke-width="1.8">/</text>
<text transform="translate(79.50 726.22) rotate(-90) scale(1 0.962)" font-size="103.30" stroke-width="1.8">n</text>
<text transform="translate(1678.20 244.40) scale(0.9500 1.0000)" font-size="81.20">γ</text>
<text transform="translate(1711.57 195.36) scale(1.0000 0.9760)" font-size="57.42">2</text>
<text transform="translate(1738.66 250.57) scale(1.0700 1.0000)" font-size="81.20">=</text>
<text transform="translate(1786.08 244.40) scale(1.0000 0.9900)" font-size="81.20">0</text>
<text transform="translate(1831.55 244.40) scale(1.0000 1.0000)" font-size="81.20">,</text>
<text transform="translate(1846.98 244.40) scale(1.0000 0.9620)" font-size="81.20"> na</text>
<text transform="translate(1942.12 195.36) scale(1.0000 0.9760)" font-size="57.42">3</text>
<text transform="translate(1969.80 250.57) scale(1.0700 1.0000)" font-size="81.20">= </text>
<text transform="translate(2037.52 244.40) scale(1.0000 0.9900)" font-size="81.20">10</text>
<text transform="translate(2118.72 195.36) scale(1.0000 0.9760)" font-size="57.42">-6</text>
<text transform="translate(1678.20 370.20) scale(0.9500 1.0000)" font-size="81.20">γ</text>
<text transform="translate(1711.57 321.16) scale(1.0000 0.9760)" font-size="57.42">2</text>
<text transform="translate(1738.66 376.37) scale(1.0700 1.0000)" font-size="81.20">=</text>
<text transform="translate(1786.08 370.20) scale(1.0000 0.9900)" font-size="81.20">0.001</text>
<text transform="translate(1973.65 370.20) scale(1.0000 1.0000)" font-size="81.20">,</text>
<text transform="translate(1989.08 370.20) scale(1.0000 0.9620)" font-size="81.20"> na</text>
<text transform="translate(2084.22 321.16) scale(1.0000 0.9760)" font-size="57.42">3</text>
<text transform="translate(2111.90 376.37) scale(1.0700 1.0000)" font-size="81.20">=</text>
<text transform="translate(2159.32 370.20) scale(1.0000 0.9900)" font-size="81.20">10</text>
<text transform="translate(2240.52 321.16) scale(1.0000 0.9760)" font-size="57.42">-6</text>
<text transform="translate(1678.20 496.00) scale(0.9500 1.0000)" font-size="81.20">γ</text>
<text transform="translate(1711.57 446.96) scale(1.0000 0.9760)" font-size="57.42">2</text>
<text transform="translate(1738.66 502.17) scale(1.0700 1.0000)" font-size="81.20">=</text>
<text transform="translate(1786.08 496.00) scale(1.0000 0.9900)" font-size="81.20">0</text>
<text transform="translate(1831.55 496.00) scale(1.0000 1.0000)" font-size="81.20">,</text>
<text transform="translate(1846.98 496.00) scale(1.0000 0.9620)" font-size="81.20"> na</text>
<text transform="translate(1942.12 446.96) scale(1.0000 0.9760)" font-size="57.42">3</text>
<text transform="translate(1969.80 502.17) scale(1.0700 1.0000)" font-size="81.20">=</text>
<text transform="translate(2017.22 496.00) scale(1.0000 0.9900)" font-size="81.20">10</text>
<text transform="translate(2098.42 446.96) scale(1.0000 0.9760)" font-size="57.42">-5</text>
<text transform="translate(1678.20 622.50) scale(0.9500 1.0000)" font-size="81.20">γ</text>
<text transform="translate(1711.57 573.46) scale(1.0000 0.9760)" font-size="57.42">2</text>
<text transform="translate(1738.66 628.67) scale(1.0700 1.0000)" font-size="81.20">=</text>
<text transform="translate(1786.08 622.50) scale(1.0000 0.9900)" font-size="81.20">0.001</text>
<text transform="translate(1973.65 622.50) scale(1.0000 1.0000)" font-size="81.20">,</text>
<text transform="translate(1989.08 622.50) scale(1.0000 0.9620)" font-size="81.20"> na</text>
<text transform="translate(2084.22 573.46) scale(1.0000 0.9760)" font-size="57.42">3</text>
<text transform="translate(2111.90 628.67) scale(1.0700 1.0000)" font-size="81.20">=</text>
<text transform="translate(2159.32 622.50) scale(1.0000 0.9900)" font-size="81.20">10</text>
<text transform="translate(2240.52 573.46) scale(1.0000 0.9760)" font-size="57.42">-5</text>
</g>
</svg>
</body></html>
